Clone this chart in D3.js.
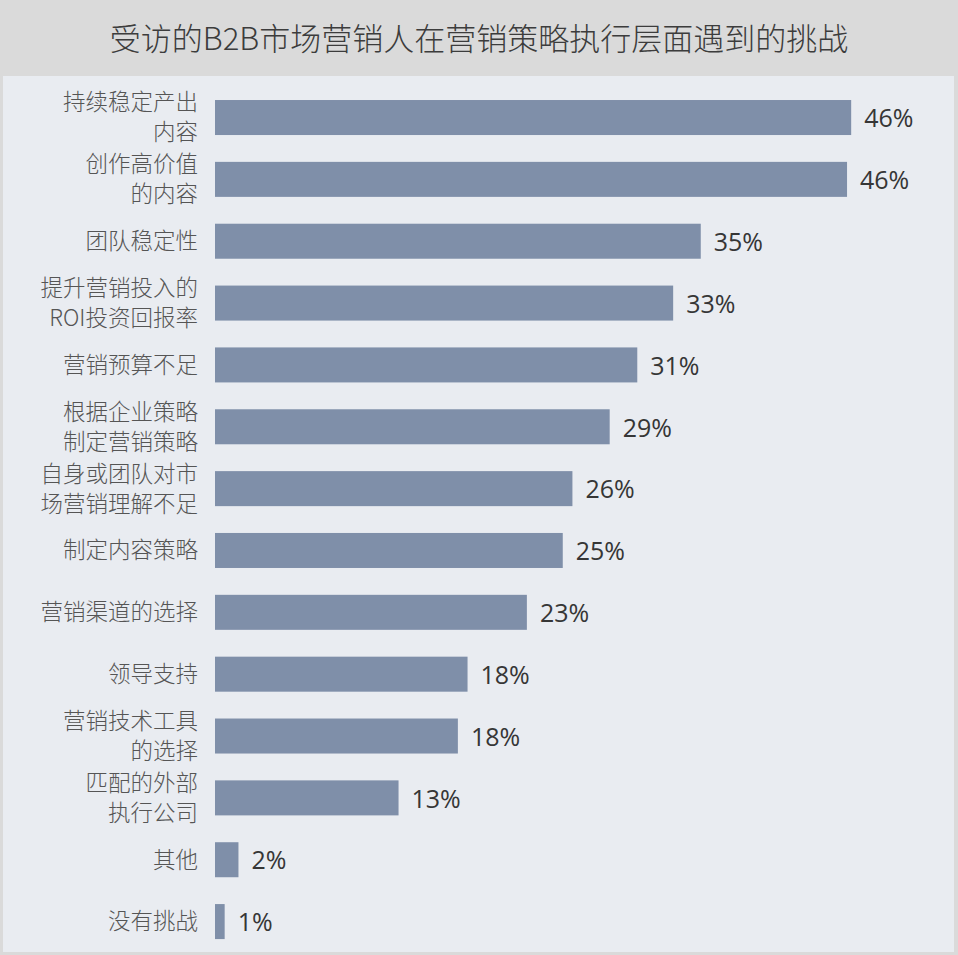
<!DOCTYPE html>
<html>
<head>
<meta charset="utf-8">
<script src="https://cdn.jsdelivr.net/npm/d3@7"></script>
<style>
    body { margin: 0; background: #dadada; }
    svg { display: block; }
</style>
</head>
<body>
<div id="chart"></div>
<script>
// data
const chartTitle = "受访的B2B市场营销人在营销策略执行层面遇到的挑战";
const categories = [
    "持续稳定产出\n内容",
    "创作高价值\n的内容",
    "团队稳定性",
    "提升营销投入的\nROI投资回报率",
    "营销预算不足",
    "根据企业策略\n制定营销策略",
    "自身或团队对市\n场营销理解不足",
    "制定内容策略",
    "营销渠道的选择",
    "领导支持",
    "营销技术工具\n的选择",
    "匹配的外部\n执行公司",
    "其他",
    "没有挑战"
];
const values = [46.1, 45.8, 35.2, 33.2, 30.6, 28.6, 25.9, 25.2, 22.6, 18.3, 17.6, 13.3, 1.7, 0.7];
const valueLabels = ["46%", "46%", "35%", "33%", "31%", "29%", "26%", "25%", "23%", "18%", "18%", "13%", "2%", "1%"];

render();

function render() {
    const width = 958, height = 955;
    const data = categories.map((c, i) => ({ name: c, value: values[i], label: valueLabels[i] }));

    const svg = d3.select('#chart').append('svg')
        .attr('width', width)
        .attr('height', height);

    // outer frame + title band
    svg.append('rect')
        .attr('width', width).attr('height', height)
        .attr('fill', '#dadada');

    svg.append('rect')
        .attr('x', 3).attr('y', 76)
        .attr('width', 951).attr('height', 876)
        .attr('fill', '#e9ecf1');

    svg.append('text')
        .attr('x', width / 2)
        .attr('y', 50)
        .attr('text-anchor', 'middle')
        .style('font-family', '"Noto Sans CJK SC", sans-serif')
        .style('font-size', '31px')
        .style('font-weight', 300)
        .style('fill', '#3c3c3c')
        .text(chartTitle);

    // scales
    const x = d3.scaleLinear()
        .domain([0, 50])
        .range([215, 905]);

    const y = d3.scaleBand()
        .domain(categories)
        .range([86.6, 952.5])
        .paddingInner(0.434)
        .paddingOuter(0.217);

    const g = svg.append('g');

    g.selectAll('rect.bar')
        .data(data)
        .join('rect')
        .attr('class', 'bar')
        .attr('x', x(0))
        .attr('y', d => y(d.name))
        .attr('width', d => x(d.value) - x(0))
        .attr('height', y.bandwidth())
        .attr('fill', '#7f8fa9');

    // value labels
    g.selectAll('text.val')
        .data(data)
        .join('text')
        .attr('class', 'val')
        .attr('x', d => x(d.value) + 13)
        .attr('y', d => y(d.name) + y.bandwidth() / 2 + 1)
        .attr('dy', '0.35em')
        .style('font-family', '"Open Sans", sans-serif')
        .style('font-size', '25px')
        .style('font-weight', 500)
        .style('fill', '#363636')
        .text(d => d.label);

    // category labels, some on two lines
    const lineH = 30;
    const cat = g.selectAll('text.cat')
        .data(data)
        .join('text')
        .attr('class', 'cat')
        .attr('text-anchor', 'end')
        .style('font-family', '"Noto Sans CJK SC", sans-serif')
        .style('font-size', '22.5px')
        .style('font-weight', 300)
        .style('fill', '#555');

    cat.each(function (d) {
        const lines = d.name.split('\n');
        const cy = y(d.name) + y.bandwidth() / 2;
        const top = cy - (lines.length - 1) * lineH / 2;
        d3.select(this).selectAll('tspan')
            .data(lines)
            .join('tspan')
            .attr('x', 198)
            .attr('y', (l, i) => top + i * lineH)
            .attr('dy', '0.35em')
            .text(l => l);
    });
}
</script>
</body>
</html>
